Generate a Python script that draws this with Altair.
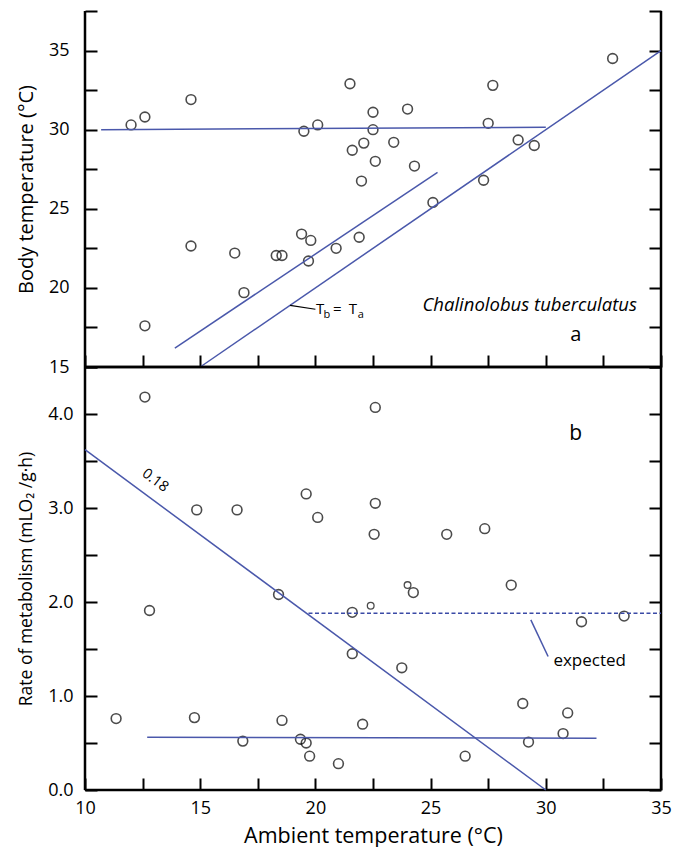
import altair as alt
import pandas as pd

# ---------------- Panel a: body temperature ----------------
ta_a = [12.0, 12.6, 14.6, 19.5, 20.1, 14.6, 16.5, 18.3, 18.55, 19.4, 19.8, 19.7, 20.9, 16.9, 12.6,
        21.5, 27.7, 32.9, 22.5, 24.0, 22.5, 27.5, 21.6, 22.1, 23.4, 22.6, 24.3, 22.0, 28.8, 29.5,
        27.3, 25.1, 21.9]
tb_a = [30.3, 30.8, 31.9, 29.9, 30.3, 22.65, 22.2, 22.05, 22.05, 23.4, 23.0, 21.7, 22.5, 19.7, 17.6,
        32.9, 32.8, 34.5, 31.1, 31.3, 30.0, 30.4, 28.7, 29.15, 29.2, 28.0, 27.7, 26.75, 29.35, 29.0,
        26.8, 25.4, 23.2]

line_a_x = [10.7, 13.9, 15.0]
line_a_x2 = [30.0, 25.3, 35.0]
line_a_y = [30.0, 16.2, 15.0]
line_a_y2 = [30.15, 27.3, 35.0]

# ---------------- Panel b: metabolic rate ----------------
ta_b = [12.6, 14.85, 16.6, 19.6, 20.1, 18.4, 12.8, 11.35, 14.75, 18.55, 16.85, 19.35, 19.6, 19.75, 21.0,
        22.6, 22.6, 22.55, 25.7, 27.35, 24.25, 28.5, 21.6, 31.55, 33.4, 21.6, 23.75, 29.0, 30.95, 22.05,
        30.75, 29.25, 26.5]
mr_b = [4.18, 2.98, 2.98, 3.15, 2.90, 2.08, 1.91, 0.76, 0.77, 0.74, 0.52, 0.54, 0.50, 0.36, 0.28,
        4.07, 3.05, 2.72, 2.72, 2.78, 2.10, 2.18, 1.89, 1.79, 1.85, 1.45, 1.30, 0.92, 0.82, 0.70,
        0.60, 0.51, 0.36]
ta_b_small = [24.0, 22.4]
mr_b_small = [2.18, 1.96]

line_b_x = [10.0, 12.7, 29.35]
line_b_x2 = [30.0, 32.2, 30.1]
line_b_y = [3.62, 0.56, 1.81]
line_b_y2 = [0.0, 0.55, 1.42]
expected_x = [19.7]
expected_x2 = [35.0]
expected_y = [1.88]

x_dom = [10, 35]
ya_dom = [15, 37.5]
yb_dom = [0, 4.5]
x_ticks = [10, 12.5, 15, 17.5, 20, 22.5, 25, 27.5, 30, 32.5, 35]
ya_ticks = [15, 17.5, 20, 22.5, 25, 27.5, 30, 32.5, 35, 37.5]
yb_ticks = [0, 0.5, 1, 1.5, 2, 2.5, 3, 3.5, 4, 4.5]

BLUE = "#4a58ab"
FONT = "Open Sans"
W = 576
HA = 356
HB = 423

xs = alt.Scale(domain=x_dom, nice=False, zero=False)
ysa = alt.Scale(domain=ya_dom, nice=False, zero=False)
ysb = alt.Scale(domain=yb_dom, nice=False, zero=False)

tick_common = dict(domain=False, offset=-12, tickSize=12, tickWidth=2, tickColor="black",
                   grid=False, labelFlush=False)

xaxis_a = alt.Axis(values=x_ticks, orient="bottom", labels=False, title=None, **tick_common)
xaxis_b = alt.Axis(values=x_ticks, orient="bottom", format="d",
                   labelExpr="datum.value % 5 === 0 ? datum.label : ''",
                   labelPadding=9, labelFontSize=18, labelFont=FONT, labelColor="black",
                   title="Ambient temperature (°C)", titleFontSize=21.5, titleFont=FONT,
                   titleFontWeight="normal", titlePadding=8, titleColor="black", **tick_common)


def X(axis):
    return alt.X("x:Q", scale=xs, axis=axis)


pts_a = pd.DataFrame({"x": ta_a, "y": tb_a})
lines_a = pd.DataFrame({"x": line_a_x, "x2": line_a_x2, "y": line_a_y, "y2": line_a_y2})
border_a = pd.DataFrame({"x": [x_dom[0], x_dom[1], x_dom[0]],
                         "x2": [x_dom[0], x_dom[1], x_dom[1]],
                         "y": [ya_dom[0], ya_dom[0], ya_dom[0]],
                         "y2": [ya_dom[1], ya_dom[1], ya_dom[0]]})

pa_points = alt.Chart(pts_a).mark_point(shape="circle", filled=False, color="black",
                                        strokeWidth=1.6, size=95).encode(
    x=X(xaxis_a),
    y=alt.Y("y:Q", scale=ysa, axis=alt.Axis(
        values=ya_ticks, orient="left", format="d",
        labelExpr="datum.value % 5 === 0 ? datum.label : ''",
        labelPadding=16, labelFontSize=18, labelFont=FONT, labelColor="black",
        title="Body temperature (°C)", titleFontSize=20, titleFont=FONT,
        titleFontWeight="normal", titleColor="black", titlePadding=12, **tick_common)),
)

pa_border = alt.Chart(border_a).mark_rule(color="black", strokeWidth=2.5).encode(
    x=X(xaxis_a),
    x2="x2:Q",
    y=alt.Y("y:Q", scale=ysa, axis=alt.Axis(values=ya_ticks, orient="right", labels=False,
                                           title=None, **tick_common)),
    y2="y2:Q",
)

pa_lines = alt.Chart(lines_a).mark_rule(color=BLUE, strokeWidth=1.5).encode(
    x=X(xaxis_a), x2="x2:Q",
    y=alt.Y("y:Q", scale=ysa, axis=None), y2="y2:Q",
)

lead_a = pd.DataFrame({"x": [18.9], "x2": [20.0], "y": [18.9], "y2": [18.65]})
pa_lead = alt.Chart(lead_a).mark_rule(color="black", strokeWidth=1.2).encode(
    x=X(xaxis_a), x2="x2:Q",
    y=alt.Y("y:Q", scale=ysa, axis=None), y2="y2:Q",
)

tb_big = pd.DataFrame({"x": [20.2, 20.95, 21.63], "y": [18.68, 18.68, 18.68], "t": ["T", "=", "T"]})
tb_small = pd.DataFrame({"x": [20.5, 21.97], "y": [18.3, 18.3], "t": ["b", "a"]})
pa_tb_big = alt.Chart(tb_big).mark_text(font=FONT, fontSize=15, color="black").encode(
    x=X(xaxis_a), y=alt.Y("y:Q", scale=ysa, axis=None), text="t:N")
pa_tb_small = alt.Chart(tb_small).mark_text(font=FONT, fontSize=11, color="black").encode(
    x=X(xaxis_a), y=alt.Y("y:Q", scale=ysa, axis=None), text="t:N")

species = pd.DataFrame({"x": [29.3], "y": [18.9], "t": ["Chalinolobus tuberculatus"]})
pa_species = alt.Chart(species).mark_text(font=FONT, fontSize=18.5, fontStyle="italic",
                                          color="black").encode(
    x=X(xaxis_a), y=alt.Y("y:Q", scale=ysa, axis=None), text="t:N")

lab_a = pd.DataFrame({"x": [31.3], "y": [17.0], "t": ["a"]})
pa_lab = alt.Chart(lab_a).mark_text(font=FONT, fontSize=20, color="black").encode(
    x=X(xaxis_a), y=alt.Y("y:Q", scale=ysa, axis=None), text="t:N")

panel_a = alt.layer(pa_points, pa_border, pa_lines, pa_lead, pa_tb_big, pa_tb_small,
                    pa_species, pa_lab).resolve_axis(y="independent").properties(
    width=W, height=HA)

pts_b = pd.DataFrame({"x": ta_b, "y": mr_b})
pts_b_small = pd.DataFrame({"x": ta_b_small, "y": mr_b_small})
lines_b = pd.DataFrame({"x": line_b_x, "x2": line_b_x2, "y": line_b_y, "y2": line_b_y2})
exp_b = pd.DataFrame({"x": expected_x, "x2": expected_x2, "y": expected_y})
border_b = pd.DataFrame({"x": [x_dom[0], x_dom[1], x_dom[0], x_dom[0]],
                         "x2": [x_dom[0], x_dom[1], x_dom[1], x_dom[1]],
                         "y": [yb_dom[0], yb_dom[0], yb_dom[0], yb_dom[1]],
                         "y2": [yb_dom[1], yb_dom[1], yb_dom[0], yb_dom[1]]})

pb_points = alt.Chart(pts_b).mark_point(shape="circle", filled=False, color="black",
                                        strokeWidth=1.6, size=95).encode(
    x=X(xaxis_b),
    y=alt.Y("y:Q", scale=ysb, axis=alt.Axis(
        values=yb_ticks, orient="left", format=".1f",
        labelExpr="datum.value % 1 === 0 && datum.value < 4.5 ? datum.label : ''",
        labelPadding=12, labelFontSize=18, labelFont=FONT, labelColor="black",
        title="Rate of metabolism (mLO₂ /g·h)", titleFontSize=17.5, titleFont=FONT,
        titleFontWeight="normal", titleColor="black", titlePadding=12, **tick_common)),
)

pb_small = alt.Chart(pts_b_small).mark_point(shape="circle", filled=False, color="black",
                                             strokeWidth=1.3, size=45).encode(
    x=X(xaxis_b), y=alt.Y("y:Q", scale=ysb, axis=None))

pb_border = alt.Chart(border_b).mark_rule(color="black", strokeWidth=2.5).encode(
    x=X(xaxis_b),
    x2="x2:Q",
    y=alt.Y("y:Q", scale=ysb, axis=alt.Axis(values=yb_ticks, orient="right", labels=False,
                                           title=None, **tick_common)),
    y2="y2:Q",
)

pb_lines = alt.Chart(lines_b).mark_rule(color=BLUE, strokeWidth=1.5).encode(
    x=X(xaxis_b), x2="x2:Q",
    y=alt.Y("y:Q", scale=ysb, axis=None), y2="y2:Q",
)

pb_exp = alt.Chart(exp_b).mark_rule(color="#3a4aa6", strokeWidth=1.6, strokeDash=[4, 2.5]).encode(
    x=X(xaxis_b), x2="x2:Q",
    y=alt.Y("y:Q", scale=ysb, axis=None),
)

txt_b = pd.DataFrame({"x": [30.33], "y": [1.375], "t": ["expected"]})
pb_txt = alt.Chart(txt_b).mark_text(font=FONT, fontSize=17, color="black", align="left").encode(
    x=X(xaxis_b), y=alt.Y("y:Q", scale=ysb, axis=None), text="t:N")

slope_b = pd.DataFrame({"x": [13.04], "y": [3.29], "t": ["0.18"]})
pb_slope = alt.Chart(slope_b).mark_text(font=FONT, fontSize=14.5, color="black", angle=37).encode(
    x=X(xaxis_b), y=alt.Y("y:Q", scale=ysb, axis=None), text="t:N")

lab_b = pd.DataFrame({"x": [31.3], "y": [3.79], "t": ["b"]})
pb_lab = alt.Chart(lab_b).mark_text(font=FONT, fontSize=21, color="black").encode(
    x=X(xaxis_b), y=alt.Y("y:Q", scale=ysb, axis=None), text="t:N")

panel_b = alt.layer(pb_points, pb_border, pb_lines, pb_exp, pb_txt, pb_slope, pb_lab,
                    pb_small).resolve_axis(y="independent").properties(
    width=W, height=HB)

chart = alt.vconcat(panel_a, panel_b, spacing=0, bounds="flush").properties(
    padding={"left": 8, "top": 1, "right": 5, "bottom": 1}
).configure(background="white").configure_view(stroke=None)

chart.save("out.html", embed_options={"renderer": "svg", "actions": False})
